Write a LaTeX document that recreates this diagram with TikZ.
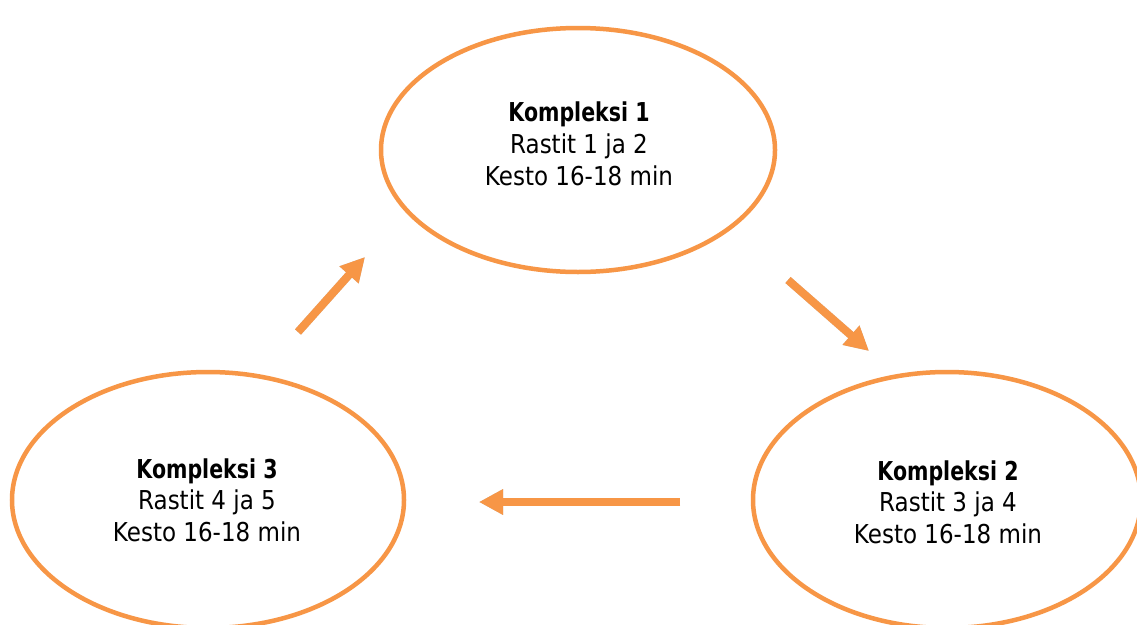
\documentclass[tikz,border=0pt]{standalone}
\usepackage{fontspec}
\setmainfont[FakeStretch=0.885,BoldFeatures={FakeStretch=0.79}]{DejaVu Sans}
\usetikzlibrary{arrows.meta,shapes.geometric}
\definecolor{accorange}{HTML}{F79646}
\tikzset{
  bubble/.style={ellipse,draw=accorange,line width=4.5pt,fill=white,inner sep=0pt},
  label3/.style={align=center,font=\fontsize{26}{31.7}\selectfont,text=black,inner sep=0pt},
  flow/.style={draw=accorange,line width=8pt,-{Triangle[length=24pt,width=24pt]}},
  flowshadow/.style={draw=black,opacity=0.22,line width=8pt,-{Triangle[length=24pt,width=24pt]}}
}
\begin{document}
\begin{tikzpicture}[x=1pt,y=-1pt]
\useasboundingbox (0,0) rectangle (1137,624);
\clip (0,0) rectangle (1137,624);
\fill[white] (0,0) rectangle (1137,624);
% ellipses
\node[bubble,minimum width=394pt,minimum height=244pt] (e1) at (578,150) {};
\node[bubble,minimum width=392pt,minimum height=256pt] (e3) at (208,500) {};
\node[bubble,minimum width=388pt,minimum height=256pt] (e2) at (947,500) {};
% texts
\node[label3] (t1) at (579,144) {\textbf{Kompleksi 1}\\Rastit 1 ja 2\\Kesto 16-18 min};
\node[label3] (t2) at (948,502) {\textbf{Kompleksi 2}\\Rastit 3 ja 4\\Kesto 16-18 min};
\node[label3] (t3) at (207,500) {\textbf{Kompleksi 3}\\Rastit 4 ja 5\\Kesto 16-18 min};
% arrow end points
\coordinate (a1s) at (298,332);
\coordinate (a1e) at (365,257);
\coordinate (a2s) at (788,280);
\coordinate (a2e) at (869,351);
\coordinate (a3s) at (680,502);
\coordinate (a3e) at (479,502);
% shadows
\begin{scope}[shift={(2,3)}]
\draw[flowshadow] (a1s) -- (a1e);
\draw[flowshadow] (a2s) -- (a2e);
\draw[flowshadow] (a3s) -- (a3e);
\end{scope}
% arrows
\draw[flow] (a1s) -- (a1e);
\draw[flow] (a2s) -- (a2e);
\draw[flow] (a3s) -- (a3e);
\end{tikzpicture}
\end{document}
